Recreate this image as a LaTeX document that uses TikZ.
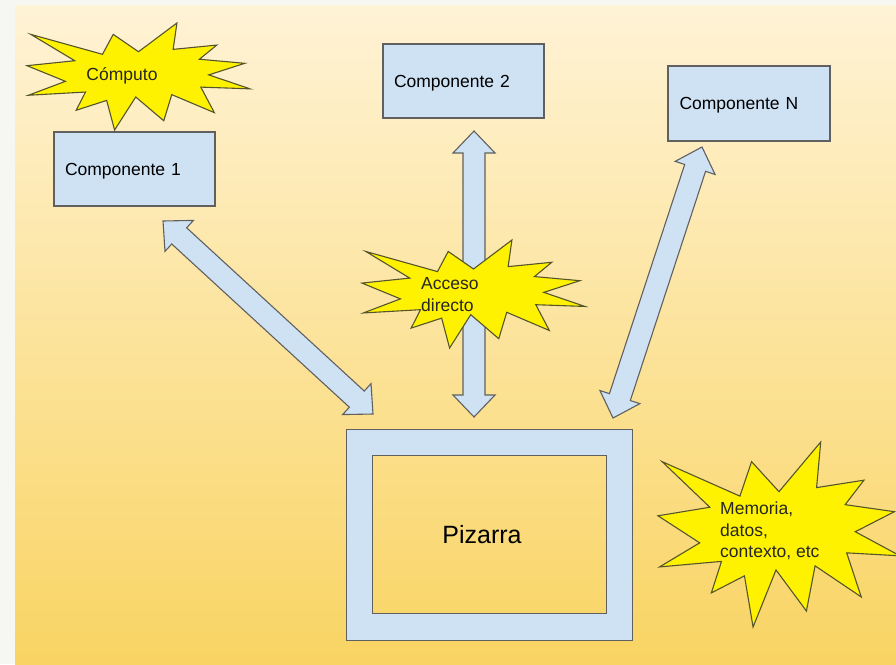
\documentclass[tikz,border=0pt]{standalone}
\usepackage{fontspec}
\setmainfont{Liberation Sans}
\usetikzlibrary{calc}
\definecolor{boxblue}{HTML}{CFE2F3}
\definecolor{edgegrey}{HTML}{606060}
\definecolor{bgtop}{HTML}{FFF3D6}
\definecolor{bgbottom}{HTML}{F9D463}
\definecolor{pagegrey}{HTML}{F6F7F2}
\definecolor{starline}{HTML}{55552C}
\tikzset{
  comp/.style={draw=edgegrey, line width=1.2pt, fill=boxblue, minimum width=161pt,
    minimum height=74pt, text width=139pt, inner xsep=11pt, align=left,
    text depth=0pt, font=\fontsize{17.5}{21}\selectfont},
  fatarrow/.style={draw=edgegrey, line width=1.1pt, fill=boxblue},
  seal/.style={draw=starline, line width=1.1pt, fill=yellow},
  lbl/.style={align=left, inner sep=0pt, yshift=-2pt, text=black!85,
    font=\fontsize{17.5}{21.5}\selectfont}
}
% fat double arrow between two tips
\newcommand{\biarrow}[2]{%
  \draw[fatarrow] (#1) -- ($(#1)!22pt!(#2)!21pt!90:(#2)$)
    -- ($(#1)!22pt!(#2)!11pt!90:(#2)$) -- ($(#2)!22pt!(#1)!11pt!-90:(#1)$)
    -- ($(#2)!22pt!(#1)!21pt!-90:(#1)$) -- (#2)
    -- ($(#2)!22pt!(#1)!21pt!90:(#1)$) -- ($(#2)!22pt!(#1)!11pt!90:(#1)$)
    -- ($(#1)!22pt!(#2)!11pt!-90:(#2)$) -- ($(#1)!22pt!(#2)!21pt!-90:(#2)$)
    -- cycle;}
% explosion star: top left corner, width, height
\newcommand{\explosion}[4]{%
  \draw[seal, shift={(#1,#2)}, xscale=#3/216, yscale=#4/216]
    (108,58) -- (145.22,0) -- (141.55,53.25) -- (183.8,44.57) -- (167.02,73.15)
    -- (210.97,81.37) -- (176.07,104.75) -- (216,132.9) -- (168.37,129.42)
    -- (181.45,180.95) -- (140.2,144.57) -- (132.47,197.37) -- (105.32,149.35)
    -- (84.85,216) -- (77.15,156.27) -- (47.62,176.17) -- (56.67,139.37)
    -- (1.35,145.87) -- (37.22,117.75) -- (0,86.15) -- (46.27,76.17)
    -- (3.7,22.95) -- (73.12,63.2) -- (83.52,22.95) -- cycle;}
\begin{document}
\begin{tikzpicture}[x=1pt,y=-1pt]
\useasboundingbox (0,0) rectangle (896,664);
\clip (0,0) rectangle (896,664);
\fill[pagegrey] (0,0) rectangle (896,664);
\shade[top color=bgtop, bottom color=bgbottom] (15,5) rectangle (896,664);

% components
\node[comp] (comp1) at (134.5,169) {Componente 1};
\node[comp] (comp2) at (463.5,81) {Componente 2};
\node[comp, minimum width=162pt, minimum height=75pt] (compN) at (749,103.5) {Componente N};

% blackboard
\node[minimum width=285pt, minimum height=210pt] (pizarra) at (489.5,535) {};
\node[minimum width=233pt, minimum height=157pt] (hueco) at (489.5,534.5) {};
\path[draw=edgegrey, line width=1.2pt, fill=boxblue, even odd rule]
  (pizarra.north west) rectangle (pizarra.south east)
  (hueco.north west) rectangle (hueco.south east);
\node[font=\fontsize{25}{30}\selectfont] (ptext) at (482,535) {Pizarra};

% connectors
\coordinate (a1) at (163,221);
\coordinate (b1) at (373,414);
\coordinate (a2) at (474,131);
\coordinate (b2) at (474,417);
\coordinate (aN) at (702,147);
\coordinate (bN) at (613,418);
\biarrow{a1}{b1}
\biarrow{a2}{b2}
\biarrow{aN}{bN}

% stars
\explosion{27}{23}{223}{107}
\node[lbl] (computo) at (122,74) {Cómputo};
\explosion{362}{240}{223}{108}
\node[lbl, anchor=west] (acceso) at (421,292.5) {Acceso\\directo};
\explosion{658}{442}{242}{185}
\node[lbl, anchor=west] (memoria) at (720,529) {Memoria,\\datos,\\contexto, etc};
\end{tikzpicture}
\end{document}
